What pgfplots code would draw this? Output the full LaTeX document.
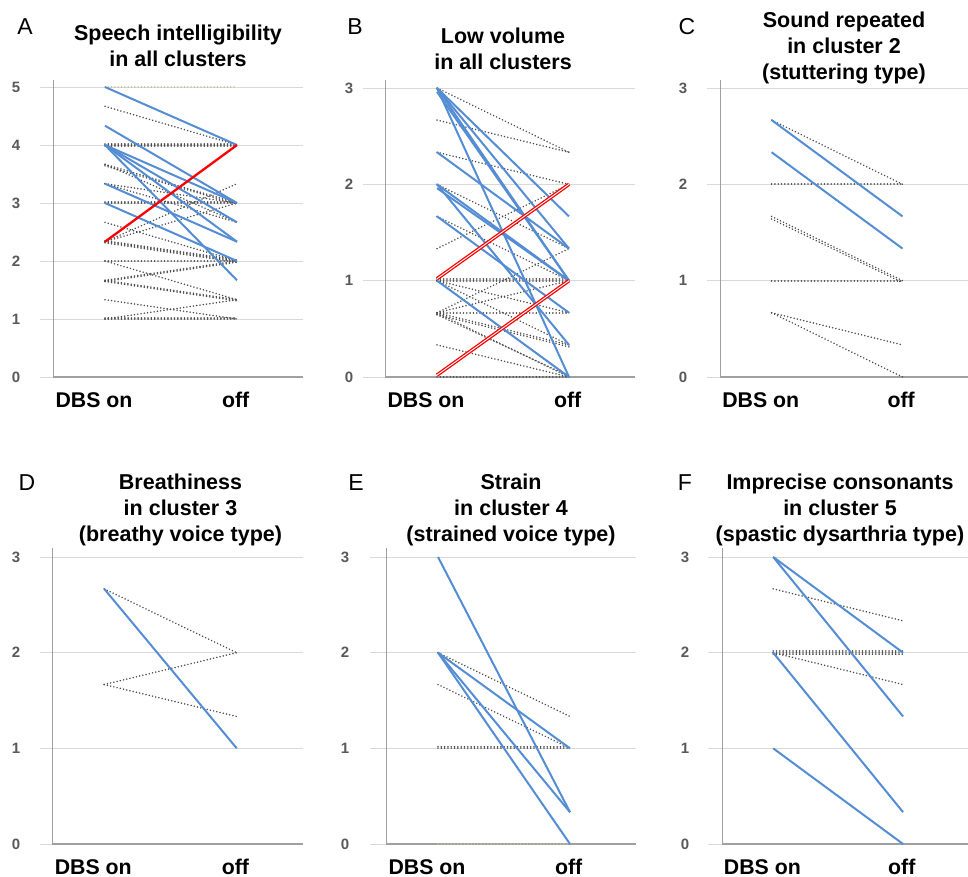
\documentclass[border=0pt]{standalone}
\usepackage{fontspec}
\setmainfont{Liberation Sans}
\usepackage{pgfplots}
\pgfplotsset{compat=1.18}
\definecolor{bl}{RGB}{84,141,212}
\definecolor{dg}{RGB}{75,75,75}
\definecolor{gridc}{RGB}{217,217,217}
\definecolor{axc}{RGB}{160,160,160}
\definecolor{tanc}{RGB}{200,188,150}
\definecolor{tickc}{RGB}{89,89,89}
\pgfplotsset{
 panel/.style={
  scale only axis, width=250pt, height=297pt,
  xmin=0.606, xmax=2.5, ymin=0,
  axis lines=left, axis line style={-, draw=axc, line width=0.9pt},
  x axis line style={line width=1.3pt},
  ymajorgrids, grid style={gridc, line width=0.9pt},
  xtick={0.917,1.99}, xticklabels={DBS on, off},
  xtick style={draw=none},
  ytick style={draw=gridc, line width=0.9pt},
  tick align=outside,
  xticklabel style={font=\bfseries\fontsize{21.3}{21.3}\selectfont, anchor=base},
  yticklabel style={font=\bfseries\fontsize{15}{15}\selectfont, text=tickc, anchor=center},
  /pgf/number format/assume math mode=true,
  title style={font=\bfseries\fontsize{21.5}{26}\selectfont, align=center, anchor=south, inner sep=0pt, at={(0.5,1)}},
  clip=false,
 },
 dotl/.style={dg, line width=1.7pt, line cap=round, dash pattern=on 0.01pt off 3.3pt},
 tanl/.style={tanc, line width=1.6pt, line cap=round, dash pattern=on 0.01pt off 3.3pt},
 bll/.style={bl, line width=2pt},
 redl/.style={red, line width=2.3pt},
 redd/.style={draw=red, double=white, double distance=0.9pt, line width=1.3pt},
}
\newcommand\seg[3]{\addplot[#1] coordinates {(1,#2) (2,#3)};}
\begin{document}
\begin{tikzpicture}
\useasboundingbox (0pt,0pt) rectangle (968pt,-877pt);
% ---------------- A
\begin{axis}[panel, at={(53pt,-377pt)}, anchor=south west, ymax=5.121, ytick={0,1,2,3,4,5},
  major tick length=13pt,
  xticklabel style={yshift=-17pt}, yticklabel style={xshift=-24pt},
  title={Speech intelligibility\\in all clusters}, title style={yshift=7pt}]
\seg{tanl}{5}{5}
\seg{dotl}{4.667}{4}
\seg{dotl}{4}{4}
\seg{dotl}{4.02}{4.02}
\seg{dotl}{3.98}{3.98}
\seg{dotl}{3.667}{3}
\seg{dotl}{3.64}{2.98}
\seg{dotl}{3.667}{2.667}
\seg{dotl}{3.333}{3}
\seg{dotl}{3.333}{2.667}
\seg{dotl}{3}{3}
\seg{dotl}{3.02}{3.02}
\seg{dotl}{2.333}{3.333}
\seg{dotl}{2.333}{3}
\seg{dotl}{2.667}{2}
\seg{dotl}{2.333}{2}
\seg{dotl}{2.313}{1.98}
\seg{dotl}{2.35}{2.02}
\seg{dotl}{2}{2}
\seg{dotl}{2}{1.333}
\seg{dotl}{1.667}{2}
\seg{dotl}{1.647}{1.98}
\seg{dotl}{1.667}{1.333}
\seg{dotl}{1.647}{1.313}
\seg{dotl}{1.333}{1}
\seg{dotl}{1}{1.333}
\seg{dotl}{1}{1}
\seg{dotl}{1.015}{1.015}
\seg{bll}{5}{4}
\seg{bll}{4.333}{3}
\seg{bll}{4}{3}
\seg{bll}{4}{2.667}
\seg{bll}{4}{2.333}
\seg{bll}{4}{1.667}
\seg{bll}{3.333}{2.333}
\seg{bll}{3}{2}
\seg{redl}{2.333}{4}
\end{axis}
\node[font=\fontsize{23}{23}\selectfont] at (25pt,-27pt) {A};
% ---------------- B
\begin{axis}[panel, at={(385pt,-377pt)}, anchor=south west, ymax=3.083, ytick={0,1,2,3},
  major tick length=22pt,
  xticklabel style={yshift=-8pt}, yticklabel style={xshift=-14pt},
  title={Low volume\\in all clusters}, title style={yshift=4pt, xshift=-7pt}]
\seg{dotl}{3}{2.333}
\seg{dotl}{2.667}{2.333}
\seg{dotl}{2.333}{2}
\seg{dotl}{2}{1.333}
\seg{dotl}{1.667}{1}
\seg{dotl}{1.333}{2}
\seg{dotl}{1}{1}
\seg{dotl}{1.02}{1.02}
\seg{dotl}{1}{0.667}
\seg{dotl}{1}{0.333}
\seg{dotl}{1}{0}
\seg{dotl}{0.667}{1}
\seg{dotl}{0.667}{1.333}
\seg{dotl}{0.667}{0.667}
\seg{dotl}{0.667}{0.333}
\seg{dotl}{0.647}{0.313}
\seg{dotl}{0.667}{0}
\seg{dotl}{0.647}{0.01}
\seg{dotl}{0.333}{0}
\seg{dotl}{0}{0}
\seg{bll}{3}{1.667}
\seg{bll}{3}{1.333}
\seg{bll}{3}{1}
\seg{bll}{2.96}{1}
\seg{bll}{3}{0}
\seg{bll}{2.333}{1.333}
\seg{bll}{2}{1}
\seg{bll}{1.96}{1}
\seg{bll}{2}{0.333}
\seg{bll}{1.667}{0.667}
\seg{bll}{1}{0}
\seg{redd}{1.02}{2}
\seg{redd}{0.02}{1}
\end{axis}
\node[font=\fontsize{23}{23}\selectfont] at (355pt,-27pt) {B};
% ---------------- C
\begin{axis}[panel, at={(720pt,-377pt)}, anchor=south west, width=248pt, ymax=3.083, ytick={0,1,2,3},
  major tick length=13pt,
  xticklabel style={yshift=-17pt}, yticklabel style={xshift=-24pt},
  title={Sound repeated\\in cluster 2\\(stuttering type)}, title style={yshift=-10.5pt}]
\seg{dotl}{2.667}{2}
\seg{dotl}{2}{2}
\seg{dotl}{1.667}{1}
\seg{dotl}{1.64}{0.98}
\seg{dotl}{1}{1}
\seg{dotl}{0.667}{0.333}
\seg{dotl}{0.667}{0}
\seg{bll}{2.667}{1.667}
\seg{bll}{2.333}{1.333}
\end{axis}
\node[font=\fontsize{23}{23}\selectfont] at (687pt,-27pt) {C};
% ---------------- D
\begin{axis}[panel, at={(52pt,-844pt)}, anchor=south west, width=251pt, height=296pt, ymax=3.094, ytick={0,1,2,3},
  major tick length=12pt,
  xticklabel style={yshift=-18pt}, yticklabel style={xshift=-24pt},
  title={Breathiness\\in cluster 3\\(breathy voice type)}, title style={yshift=-4.5pt, xshift=3pt}]
\seg{dotl}{2.667}{2}
\seg{dotl}{1.667}{2}
\seg{dotl}{1.667}{1.333}
\seg{bll}{2.667}{1}
\end{axis}
\node[font=\fontsize{23}{23}\selectfont] at (27pt,-483pt) {D};
% ---------------- E
\begin{axis}[panel, at={(386pt,-844pt)}, anchor=south west, width=250pt, height=296pt, ymax=3.094, ytick={0,1,2,3},
  major tick length=16pt,
  xticklabel style={yshift=-14pt}, yticklabel style={xshift=-25pt},
  title={Strain\\in cluster 4\\(strained voice type)}, title style={yshift=-4.5pt}]
\seg{tanl}{0}{0}
\seg{dotl}{2}{1.333}
\seg{dotl}{1.667}{1}
\seg{dotl}{1}{1}
\seg{dotl}{1.02}{1.02}
\seg{bll}{3}{0.333}
\seg{bll}{2}{1}
\seg{bll}{2}{0.333}
\seg{bll}{2}{0}
\end{axis}
\node[font=\fontsize{23}{23}\selectfont] at (356pt,-483pt) {E};
% ---------------- F
\begin{axis}[panel, at={(722pt,-844pt)}, anchor=south west, width=246pt, height=296pt, ymax=3.094, ytick={0,1,2,3},
  major tick length=14pt,
  xticklabel style={yshift=-16pt}, yticklabel style={xshift=-23pt},
  title={Imprecise consonants\\in cluster 5\\(spastic dysarthria type)}, title style={yshift=-4.5pt, xshift=-5pt}]
\seg{dotl}{2.667}{2.333}
\seg{dotl}{2}{2}
\seg{dotl}{2.02}{2.02}
\seg{dotl}{1.98}{1.98}
\seg{dotl}{2}{1.667}
\seg{bll}{3}{2}
\seg{bll}{3}{1.333}
\seg{bll}{2}{0.333}
\seg{bll}{1}{0}
\end{axis}
\node[font=\fontsize{23}{23}\selectfont] at (685pt,-483pt) {F};
\end{tikzpicture}
\end{document}
